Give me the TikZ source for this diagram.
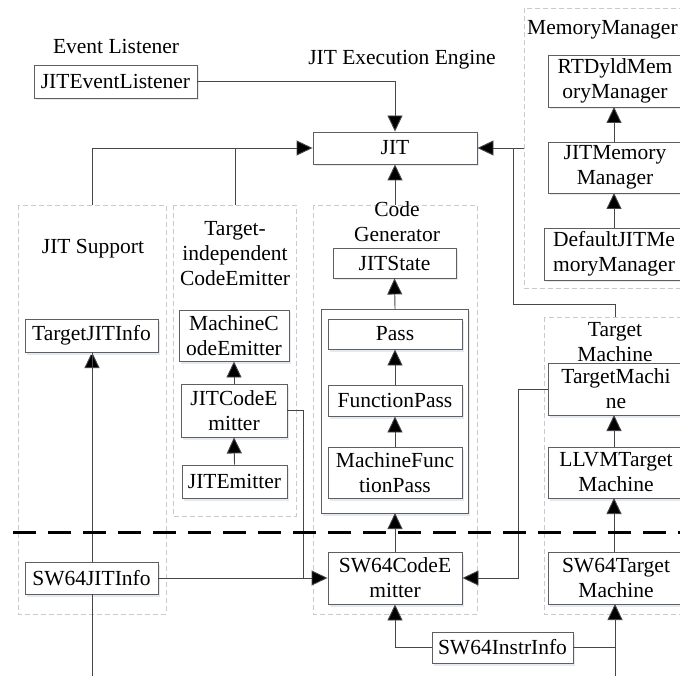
\documentclass[tikz,border=0pt]{standalone}
\usepackage{fontspec}
\setmainfont{Liberation Serif}
\usetikzlibrary{arrows.meta,shadows}
\definecolor{boxline}{RGB}{95,95,95}
\definecolor{wire}{RGB}{70,70,70}
\definecolor{groupline}{RGB}{200,202,208}
\definecolor{halo}{RGB}{228,233,242}
\begin{document}
\begin{tikzpicture}[x=1pt,y=-1pt,
  font=\fontsize{21.5}{25}\selectfont,
  box/.style={draw=boxline,line width=0.9pt,fill=white,inner sep=0pt,align=center,
    drop shadow={shadow xshift=1.5pt,shadow yshift=-2.5pt,fill=halo,opacity=1}},
  group/.style={draw=groupline,line width=0.8pt,dash pattern=on 5pt off 3pt},
  lbl/.style={inner sep=0pt,align=center},
  wireline/.style={draw=wire,line width=0.9pt},
  arr/.style={wireline,-{Triangle[length=16pt,width=15pt,fill=black]}}]
\useasboundingbox (0,0) rectangle (680,676);

% dashed group frames
\draw[group] (524,8) rectangle (700,288);
\draw[group] (18,205) rectangle (166,614);
\draw[group] (173,205) rectangle (296,516);
\draw[group] (313,205) rectangle (477,614);
\draw[group] (544,317) rectangle (700,614);

% group titles
\node[lbl] (tEvt) at (116,46) {Event Listener};
\node[lbl] (tEng) at (402,60) {JIT Execution Engine};
\node[lbl,anchor=west] (tMem) at (527,30) {MemoryManager};
\node[lbl] (tSup) at (93,249) {JIT Support};
\node[lbl] (tTie) at (235,254) {Target-\\independent\\CodeEmitter};
\node[lbl] (tCg) at (397,222) {Code\\Generator};
\node[lbl] (tTm) at (615,342) {Target\\Machine};

% coordinates on frame edges and bends
\coordinate (supTop) at (92,205);
\coordinate (tieTop) at (235,205);
\coordinate (cgTop) at (395,205);
\coordinate (memL) at (524,148);
\coordinate (tmcTop) at (615,317);
\coordinate (botL) at (92,676);
\coordinate (botR) at (615,676);

% long wire that runs behind the JIT support boxes
\draw[arr] (botL) -- (92,352);

% inner pass frame
\draw[draw=boxline,line width=0.9pt,fill=white,
  drop shadow={shadow xshift=1.5pt,shadow yshift=-2.5pt,fill=halo,opacity=1}]
  (321,309) rectangle (468,513);
\coordinate (innTop) at (395,309);
\coordinate (innBot) at (395,513);

% boxes
\node[box,minimum width=163pt,minimum height=33pt] (evl) at (115.5,81.5) {JITEventListener};
\node[box,minimum width=164pt,minimum height=32pt] (jit) at (395,148) {JIT};
\node[box,minimum width=134pt,minimum height=52pt] (rtd) at (615,81) {RTDyldMem\\oryManager};
\node[box,minimum width=134pt,minimum height=51pt] (jmm) at (615,167.5) {JITMemory\\Manager};
\node[box,minimum width=140pt,minimum height=52pt] (djmm) at (614,254) {DefaultJITMe\\moryManager};
\node[box,minimum width=133pt,minimum height=33pt] (tji) at (91.5,335.5) {TargetJITInfo};
\node[box,minimum width=133pt,minimum height=32pt] (sji) at (91.5,578) {SW64JITInfo};
\node[box,minimum width=110pt,minimum height=51pt] (mce) at (234,335.5) {MachineC\\odeEmitter};
\node[box,minimum width=106pt,minimum height=53pt] (jce) at (234,410.5) {JITCodeE\\mitter};
\node[box,minimum width=105pt,minimum height=33pt] (je) at (234.5,481.5) {JITEmitter};
\node[box,minimum width=123pt,minimum height=30pt] (jst) at (394.5,263) {JITState};
\node[box,minimum width=134pt,minimum height=30pt] (pass) at (395,334) {Pass};
\node[box,minimum width=134pt,minimum height=31pt] (fp) at (395,400.5) {FunctionPass};
\node[box,minimum width=134pt,minimum height=51pt] (mfp) at (395,472.5) {MachineFunc\\tionPass};
\node[box,minimum width=134pt,minimum height=52pt] (sce) at (395,578) {SW64CodeE\\mitter};
\node[box,minimum width=141pt,minimum height=31pt] (sii) at (502.5,647.5) {SW64InstrInfo};
\node[box,minimum width=136pt,minimum height=52pt] (tm) at (616,389) {TargetMachi\\ne};
\node[box,minimum width=136pt,minimum height=51pt] (llvm) at (616,472.5) {LLVMTarget\\Machine};
\node[box,minimum width=136pt,minimum height=52pt] (swtm) at (616,578) {SW64Target\\Machine};

% redraw the support wire segment between the two support boxes
\draw[wireline] (sji.north -| 92,0) -- (92,352);
\draw[wireline] (botL) -- (sji.south -| 92,0);

% connectors into the JIT engine
\draw[arr] (evl.east) -- (395,81.5) -- (jit.north);
\draw[arr] (supTop) -- (92,148) -- (jit.west);
\draw[wireline] (tieTop) -- (235,148);
\draw[arr] (cgTop) -- (jit.south);
\draw[arr] (memL) -- (jit.east);
\draw[wireline] (tmcTop) -- (615,304) -- (513,304) -- (513,148);

% memory manager chain
\draw[arr] (614,142) -- (614,107);
\draw[arr] (djmm.north) -- (614,193);

% code generator chain
\draw[arr] (innTop) -- (jst.south);
\draw[arr] (fp.north) -- (pass.south);
\draw[arr] (mfp.north) -- (fp.south);
\draw[arr] (sce.north) -- (innBot);

% target-independent emitter chain
\draw[arr] (jce.north) -- (mce.south);
\draw[arr] (je.north) -- (jce.south);

% target machine chain
\draw[arr] (614,447) -- (614,415);
\draw[arr] (614,552) -- (614,498);
\draw[arr] (botR) -- (615,604);

% SW64 back-end links
\draw[wireline] (jce.east) -- (303,410.5) -- (303,578);
\draw[arr] (sji.east) -- (sce.west);
\draw[arr] (tm.west) -- (518,389) -- (518,578) -- (sce.east);
\draw[arr] (sii.west) -- (395,647.5) -- (sce.south);
\draw[wireline] (sii.east) -- (615,647.5);

% separator between generic and SW64 parts
\draw[line width=3pt,dash pattern=on 23pt off 12pt] (13,532) -- (680,532);
\end{tikzpicture}
\end{document}
